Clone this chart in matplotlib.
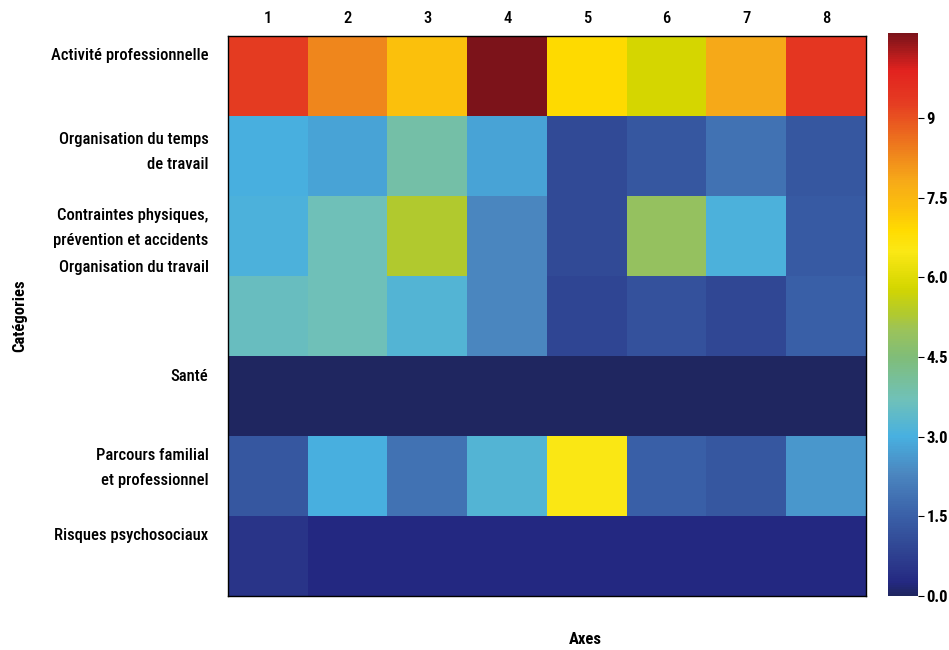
import numpy as np
import matplotlib
matplotlib.use('Agg')
import matplotlib.pyplot as plt
from matplotlib.colors import LinearSegmentedColormap

plt.rcParams['font.family'] = ['Roboto Condensed', 'DejaVu Sans']

categories = [
    'Activité professionnelle',
    'Organisation du temps\nde travail',
    'Contraintes physiques,\nprévention et accidents',
    'Organisation du travail',
    'Santé',
    'Parcours familial\net professionnel',
    'Risques psychosociaux',
]
axes_labels = ['1', '2', '3', '4', '5', '6', '7', '8']

activite = [9.3, 8.3, 7.3, 10.6, 6.9, 5.8, 7.8, 9.4]
org_temps = [3.0, 2.8, 3.9, 2.8, 1.0, 1.3, 1.9, 1.3]
contraintes = [3.1, 3.7, 5.3, 2.3, 1.0, 4.9, 3.1, 1.4]
org_travail = [3.6, 3.7, 3.2, 2.3, 0.9, 1.2, 0.95, 1.5]
sante = [0.0, 0.0, 0.0, 0.0, 0.0, 0.0, 0.0, 0.0]
parcours = [1.3, 3.0, 1.9, 3.2, 6.5, 1.5, 1.3, 2.6]
risques = [0.5, 0.25, 0.25, 0.25, 0.25, 0.25, 0.25, 0.25]

cbar_ticks = [0, 1.5, 3.0, 4.5, 6.0, 7.5, 9]
cbar_labels = ['0.0', '1.5', '3.0', '4.5', '6.0', '7.5', '9']

vmin, vmax = 0.0, 10.6
stops = [
    (0.0, '#1f2660'), (0.25, '#242982'), (0.5, '#2a3589'), (1.0, '#324b97'),
    (1.5, '#3a60a8'), (2.3, '#4b87c0'), (3.0, '#48b0e0'), (3.7, '#70c1b8'),
    (4.5, '#80bd78'), (5.0, '#9bc35a'), (5.3, '#b0c930'), (5.8, '#d4d600'),
    (6.5, '#fbe815'), (6.9, '#ffdb00'), (7.3, '#fcc10c'), (7.8, '#f7ab18'),
    (8.3, '#f0881c'), (9.3, '#e53c22'), (9.9, '#e2231f'), (10.6, '#7c131a'),
]
cmap = LinearSegmentedColormap.from_list(
    'custom', [((v - vmin) / (vmax - vmin), c) for v, c in stops])

data = np.array([activite, org_temps, contraintes, org_travail, sante, parcours, risques])

fig = plt.figure(figsize=(9.49, 6.5), dpi=100)
ax = fig.add_axes([228 / 949, 1 - 596 / 650, 638 / 949, 560 / 650])
cax = fig.add_axes([888 / 949, 1 - 596 / 650, 30 / 949, 563 / 650])

im = ax.imshow(data, cmap=cmap, vmin=vmin, vmax=vmax, aspect='auto',
               interpolation='nearest')

ax.xaxis.tick_top()
ax.set_xticks(range(len(axes_labels)))
ax.set_xticklabels(axes_labels, fontsize=12, fontweight='medium')
ax.tick_params(axis='x', length=0, pad=7)

# label offsets as in the reference (labels sit near the top of their rows)
label_pos = [-0.27, 0.87, 1.82, 2.37, 3.74, 4.82, 5.72]
ax.set_yticks(label_pos)
ax.set_yticklabels(categories, fontsize=12, linespacing=1.85, fontweight='medium')
ax.tick_params(axis='y', length=0, pad=14)

ax.set_xlabel('Axes', fontsize=12, fontweight='bold')
ax.xaxis.set_label_position('bottom')
ax.xaxis.set_label_coords(0.56, -0.065)
ax.set_ylabel('Catégories', fontsize=12, fontweight='bold')
ax.yaxis.set_label_coords(-0.315, 0.5)

for s in ax.spines.values():
    s.set_linewidth(1.0)

cb = fig.colorbar(im, cax=cax)
cb.set_ticks(cbar_ticks)
cb.set_ticklabels(cbar_labels)
cb.outline.set_visible(False)
cax.tick_params(labelsize=12, length=4, pad=2)
for t in cax.get_yticklabels():
    t.set_fontweight('bold')

fig.savefig('out.png', dpi=100)
